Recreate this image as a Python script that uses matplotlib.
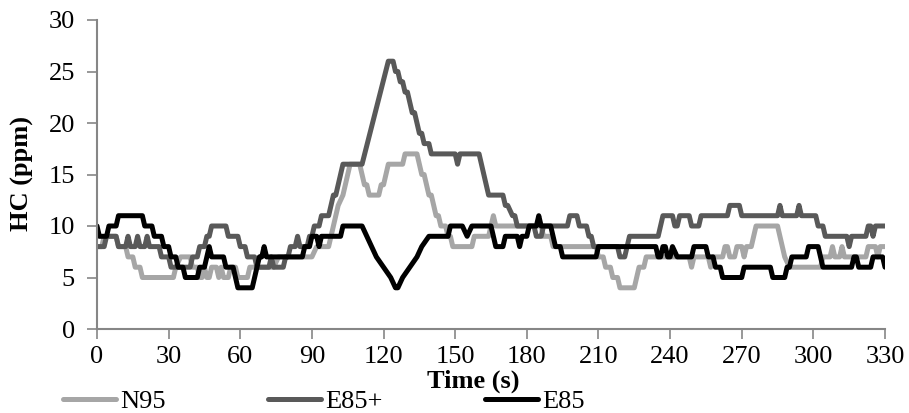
import matplotlib
matplotlib.use("Agg")
import matplotlib.pyplot as plt

plt.rcParams["font.family"] = ["Liberation Serif", "DejaVu Serif"]

# HC concentration traces, breakpoints (time in s, HC in ppm)
n95_t = [0, 2, 3, 8, 9, 12, 13, 15, 16, 18, 19, 32, 33, 35, 39, 40, 42, 43, 44, 45,
         46, 47, 48, 50, 51, 52, 53, 55, 56, 58, 59, 63, 64, 74, 76, 90, 92, 97, 98,
         100, 101, 103, 104, 105, 106, 110, 111, 112, 113, 114, 118, 119, 120, 121,
         122, 128, 129, 134, 135, 136, 137, 138, 139, 140, 141, 142, 143, 144, 146,
         147, 148, 149, 157, 158, 164, 165, 166, 167, 186, 187, 190, 191, 209, 210,
         212, 213, 215, 216, 218, 219, 225, 226, 227, 229, 230, 248, 249, 250, 256,
         257, 258, 262, 263, 264, 265, 267, 268, 270, 271, 272, 274, 275, 276, 285,
         286, 287, 288, 290, 299, 303, 304, 307, 308, 309, 311, 312, 313, 322, 323,
         326, 327, 328, 330]
n95_v = [8, 8, 9, 9, 8, 8, 7, 7, 6, 6, 5, 5, 6, 7, 7, 6, 6, 5, 5, 6,
         5, 5, 6, 6, 5, 6, 5, 5, 6, 6, 5, 5, 6, 6, 7, 7, 8, 8, 9,
         11, 12, 13, 14, 15, 16, 16, 15, 14, 14, 13, 13, 14, 14, 15,
         16, 16, 17, 17, 16, 15, 15, 14, 13, 13, 12, 11, 11, 10, 10,
         9, 9, 8, 8, 9, 9, 10, 11, 10, 10, 9, 9, 8, 8, 7,
         7, 6, 6, 5, 5, 4, 4, 5, 6, 6, 7, 7, 6, 7, 7,
         6, 7, 7, 8, 8, 7, 7, 8, 8, 7, 8, 8, 9, 10, 10,
         9, 8, 7, 6, 6, 6, 7, 7, 8, 7, 7, 8, 7, 7, 8,
         8, 7, 8, 8]

e85p_t = [0, 3, 4, 8, 9, 12, 13, 14, 16, 17, 18, 20, 21, 22, 26, 27, 30, 31, 39, 40,
          42, 43, 45, 46, 47, 48, 54, 55, 59, 60, 62, 63, 66, 67, 72, 73, 74, 78, 79,
          80, 81, 83, 84, 85, 88, 89, 90, 91, 93, 94, 97, 98, 99, 100, 101, 102, 103,
          111, 122, 124, 125, 126, 127, 128, 129, 130, 131, 132, 133, 134, 135, 136,
          137, 139, 140, 150, 151, 152, 160, 161, 162, 163, 164, 170, 171, 172, 174,
          175, 176, 183, 184, 186, 187, 197, 198, 201, 202, 205, 206, 207, 208, 218,
          219, 221, 222, 223, 235, 236, 237, 241, 242, 243, 244, 248, 249, 252, 253,
          264, 265, 269, 270, 285, 286, 287, 293, 294, 295, 301, 302, 304, 305, 314,
          315, 316, 322, 323, 324, 325, 326, 330]
e85p_v = [8, 8, 9, 9, 8, 8, 9, 8, 8, 9, 8, 8, 9, 8, 8, 7, 7, 6, 6, 7,
          7, 8, 8, 9, 9, 10, 10, 9, 9, 8, 8, 7, 7, 6, 6, 7, 6, 6, 7,
          7, 8, 8, 9, 8, 8, 9, 9, 10, 10, 11, 11, 12, 13, 13, 14, 15, 16,
          16, 26, 26, 25, 25, 24, 24, 23, 23, 22, 21, 21, 20, 19, 19,
          18, 18, 17, 17, 16, 17, 17, 16, 15, 14, 13, 13, 12, 12, 11,
          11, 10, 10, 9, 9, 10, 10, 11, 11, 10, 10, 9, 9, 8, 8,
          7, 7, 8, 9, 9, 10, 11, 11, 10, 10, 11, 11, 10, 10, 11,
          11, 12, 12, 11, 11, 12, 11, 11, 12, 11, 11, 10, 10, 9, 9,
          8, 9, 9, 10, 10, 9, 10, 10]

e85_t = [0, 1, 4, 5, 8, 9, 19, 20, 23, 24, 27, 28, 30, 31, 33, 34, 36, 37, 42, 43,
         45, 46, 47, 48, 53, 54, 57, 58, 59, 65, 66, 67, 68, 69, 70, 71, 86, 87, 89,
         90, 92, 93, 94, 102, 103, 111, 113, 115, 117, 120, 123, 125, 126, 128, 131,
         134, 136, 139, 147, 148, 153, 155, 157, 165, 166, 167, 170, 171, 176, 177,
         178, 180, 181, 184, 185, 186, 190, 191, 192, 194, 195, 209, 210, 234, 235,
         236, 237, 238, 239, 240, 241, 243, 249, 250, 255, 256, 258, 259, 261, 262,
         270, 271, 282, 283, 288, 289, 290, 291, 297, 298, 302, 303, 304, 316, 317,
         318, 319, 324, 325, 329, 330]
e85_v = [10, 9, 9, 10, 10, 11, 11, 10, 10, 9, 9, 8, 8, 7, 7, 6, 6, 5, 5, 6,
         6, 7, 8, 7, 7, 6, 6, 5, 4, 4, 5, 6, 7, 7, 8, 7, 7, 8, 8,
         9, 9, 8, 9, 9, 10, 10, 9, 8, 7, 6, 5, 4, 4, 5, 6,
         7, 8, 9, 9, 10, 10, 9, 10, 10, 9, 8, 8, 9, 9, 8,
         9, 9, 10, 10, 11, 10, 10, 9, 8, 8, 7, 7, 8, 8, 7,
         7, 8, 8, 7, 7, 8, 7, 7, 8, 8, 7, 7, 6, 6, 5,
         5, 6, 6, 5, 5, 6, 6, 7, 7, 8, 8, 7, 6, 6, 7,
         7, 6, 6, 7, 7, 6]

x_ticks = list(range(0, 331, 30))
y_ticks = list(range(0, 31, 5))

axis_grey = "#868686"

fig = plt.figure(figsize=(9.09, 4.13), dpi=100)
ax = fig.add_axes([97 / 909, 1 - 329 / 413, 788 / 909, 309 / 413])

style = dict(lw=3.6, solid_joinstyle="round", solid_capstyle="round")
ax.plot(n95_t, n95_v, color="#A6A6A6", label="N95", **style)
ax.plot(e85p_t, e85p_v, color="#595959", label="E85+", **style)
ax.plot(e85_t, e85_v, color="#000000", label="E85", **style)

ax.set_xlim(0, 330)
ax.set_ylim(0, 30)
ax.set_xticks(x_ticks)
ax.set_yticks(y_ticks)
ax.tick_params(axis="both", labelsize=19, color=axis_grey, width=1.2, length=7,
               direction="out")
ax.tick_params(axis="x", pad=5)
ax.tick_params(axis="y", pad=9)

for side in ("top", "right"):
    ax.spines[side].set_visible(False)
for side in ("left", "bottom"):
    ax.spines[side].set_color(axis_grey)
    ax.spines[side].set_linewidth(1.5)

fig.text(473 / 909, 1 - 381 / 413, "Time (s)", ha="center", va="center",
         fontsize=19, fontweight="bold")
fig.text(22 / 909, 1 - 174 / 413, "HC (ppm)", ha="center", va="center",
         rotation=90, fontsize=19, fontweight="bold")

fig.legend(loc="center left", bbox_to_anchor=(63 / 909, 1 - 401 / 413), ncol=3,
           frameon=False, fontsize=19, handlelength=2.0, handletextpad=0.15,
           columnspacing=3.9, borderpad=0, borderaxespad=0)

fig.savefig("out.png", dpi=100)
